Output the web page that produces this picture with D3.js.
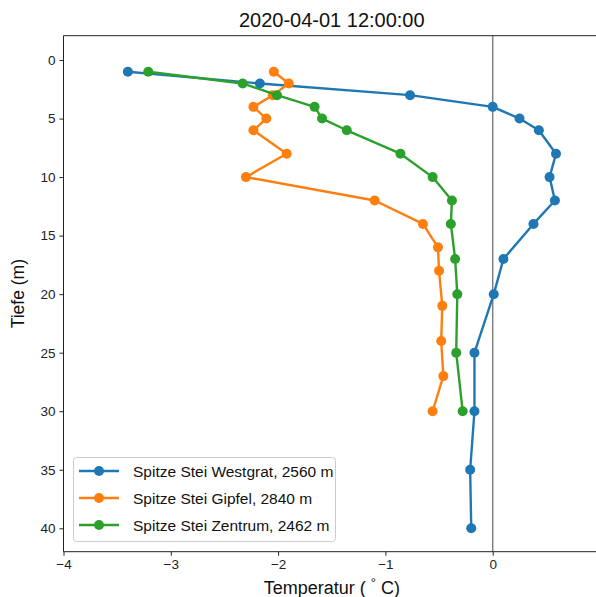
<!DOCTYPE html>
<html><head><meta charset="utf-8">
<script src="https://cdn.jsdelivr.net/npm/d3@7"></script>
<style>body{margin:0;background:#fff}svg{font-family:"Liberation Sans",Arial,sans-serif}</style>
</head><body><svg id="c" width="596" height="597"></svg>
<script>
const title = "2020-04-01 12:00:00";
const seriesNames = ["Spitze Stei Westgrat, 2560 m", "Spitze Stei Gipfel, 2840 m", "Spitze Stei Zentrum, 2462 m"];
const colors = ["#1f77b4", "#ff7f0e", "#2ca02c"];
const westDepth = [1,2,3,4,5,6,8,10,12,14,17,20,25,30,35,40];
const westTemp  = [-3.40,-2.17,-0.77,0.00,0.25,0.43,0.59,0.53,0.58,0.38,0.10,0.01,-0.17,-0.17,-0.21,-0.20];
const gipfelDepth = [1,2,3,4,5,6,8,10,12,14,16,18,21,24,27,30];
const gipfelTemp  = [-2.04,-1.90,-2.05,-2.23,-2.11,-2.23,-1.92,-2.30,-1.10,-0.65,-0.51,-0.50,-0.47,-0.48,-0.46,-0.56];
const zentDepth = [1,2,3,4,5,6,8,10,12,14,17,20,25,30];
const zentTemp  = [-3.21,-2.33,-2.01,-1.66,-1.59,-1.36,-0.86,-0.56,-0.38,-0.39,-0.35,-0.33,-0.34,-0.28];
const xTicks = [-4,-3,-2,-1,0];
const yTicks = [0,5,10,15,20,25,30,35,40];

const series = [
  {name: seriesNames[0], depth: westDepth, temp: westTemp, color: colors[0]},
  {name: seriesNames[1], depth: gipfelDepth, temp: gipfelTemp, color: colors[1]},
  {name: seriesNames[2], depth: zentDepth, temp: zentTemp, color: colors[2]}
];

const svg = d3.select("#c");
const L = 63.5, R = 600, T = 35.7, B = 551.7;
const x = d3.scaleLinear().domain([-4, 1]).range([L, R]);
const y = d3.scaleLinear().domain([-2.08, 42]).range([T, B]);

// zero line
svg.append("line").attr("x1", x(0)).attr("x2", x(0)).attr("y1", T).attr("y2", B)
  .attr("stroke", "#808080").attr("stroke-width", 1.5);

const line = d3.line().x(d => x(d[0])).y(d => y(d[1]));
series.forEach(s => {
  const pts = s.temp.map((t, i) => [t, s.depth[i]]);
  const g = svg.append("g");
  g.append("path").attr("d", line(pts)).attr("fill", "none").attr("stroke", s.color)
    .attr("stroke-width", 2.4).attr("stroke-linejoin", "round");
  g.selectAll("circle").data(pts).enter().append("circle")
    .attr("cx", d => x(d[0])).attr("cy", d => y(d[1])).attr("r", 5).attr("fill", s.color);
});

// axes
const xAxis = svg.append("g").attr("transform", `translate(0,${B})`)
  .call(d3.axisBottom(x).tickValues(xTicks).tickSize(4).tickPadding(4).tickFormat(d => d < 0 ? "\u2212" + Math.abs(d) : d));
const yAxis = svg.append("g").attr("transform", `translate(${L},0)`)
  .call(d3.axisLeft(y).tickValues(yTicks).tickSize(4).tickPadding(4));
[xAxis, yAxis].forEach(a => {
  a.select(".domain").remove();
  a.selectAll("line").attr("stroke", "#222").attr("stroke-width", 1);
  a.selectAll("text").attr("font-size", 13.5).attr("fill", "#222").attr("font-family", "Liberation Sans, Arial, sans-serif");
});
// spines
svg.append("path").attr("d", `M${L},${T}H${R}V${B}H${L}Z`).attr("fill", "none")
  .attr("stroke", "#222").attr("stroke-width", 1);

// title & labels
svg.append("text").attr("x", (L + R) / 2).attr("y", 27).attr("text-anchor", "middle")
  .attr("font-size", 20).attr("fill", "#111").text(title);
const xl = svg.append("text").attr("x", (L + R) / 2).attr("y", 594).attr("text-anchor", "middle")
  .attr("font-size", 18).attr("fill", "#111");
xl.append("tspan").text("Temperatur ( ");
xl.append("tspan").attr("dy", -7).attr("font-size", 13).text("\u00b0");
xl.append("tspan").attr("dy", 7).text(" C)");
svg.append("text").attr("transform", `translate(24,${(T + B) / 2}) rotate(-90)`).attr("text-anchor", "middle")
  .attr("font-size", 17.5).attr("fill", "#111").text("Tiefe (m)");

// legend
const lg = svg.append("g");
lg.append("rect").attr("x", 73.5).attr("y", 457.5).attr("width", 262).attr("height", 84).attr("rx", 3)
  .attr("fill", "#fff").attr("fill-opacity", 0.8).attr("stroke", "#ccc").attr("stroke-width", 1);
series.forEach((s, i) => {
  const yy = 471 + i * 27;
  lg.append("line").attr("x1", 79).attr("x2", 119).attr("y1", yy).attr("y2", yy)
    .attr("stroke", s.color).attr("stroke-width", 2.4);
  lg.append("circle").attr("cx", 99).attr("cy", yy).attr("r", 5).attr("fill", s.color);
  lg.append("text").attr("x", 133).attr("y", yy + 5.5).attr("font-size", 15.5).attr("fill", "#111").text(s.name);
});
</script></body></html>
